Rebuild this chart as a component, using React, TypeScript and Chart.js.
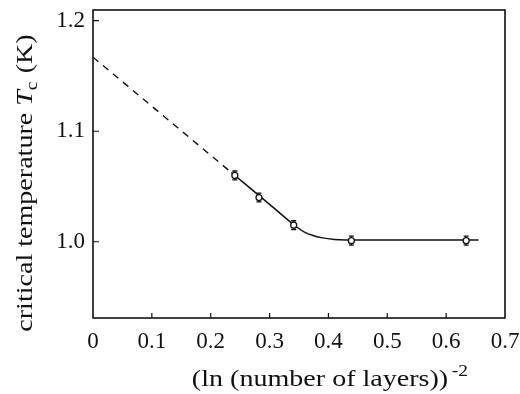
import React, { useEffect, useRef } from "react";
import { Chart, registerables } from "chart.js";

Chart.register(...registerables);

// measured points with error bars
const dataX = [0.241, 0.282, 0.341, 0.439, 0.634];
const dataY = [1.06, 1.04, 1.015, 1.001, 1.001];
const errY = [0.004, 0.004, 0.004, 0.004, 0.004];

// solid fit curve
const fitX = [0.235, 0.3, 0.345, 0.36, 0.375, 0.39, 0.41, 0.43, 0.46, 0.55, 0.655];
const fitY = [1.0627, 1.0338, 1.0138, 1.0085, 1.0055, 1.0035, 1.0021, 1.0016, 1.0015, 1.0015, 1.0015];

// dashed extrapolation
const extrapX = [0, 0.235];
const extrapY = [1.167, 1.0627];

const xTicks = [0, 0.1, 0.2, 0.3, 0.4, 0.5, 0.6, 0.7];
const yTicks = [1.0, 1.1, 1.2];

const xTitle = "(ln (number of layers))";
const xTitleSup = "-2";
const yTitleA = "critical temperature ";
const yTitleT = "T";
const yTitleSub = "c";
const yTitleB = " (K)";

const FONT = "'Liberation Serif', 'Times New Roman', serif";
const INK = "#111";
const TITLE_SIZE = 23;
const SUB_SIZE = 16;
const STRETCH = 1.22;

const decorPlugin = {
  id: "decor",
  beforeDatasetsDraw(chart: any) {
    const { ctx, scales } = chart;
    const x = scales.x;
    const y = scales.y;
    ctx.save();
    ctx.strokeStyle = INK;
    ctx.lineWidth = 1.3;
    for (let i = 0; i < dataX.length; i++) {
      const px = x.getPixelForValue(dataX[i]);
      const top = y.getPixelForValue(dataY[i] + errY[i]);
      const bot = y.getPixelForValue(dataY[i] - errY[i]);
      ctx.beginPath();
      ctx.moveTo(px, top);
      ctx.lineTo(px, bot);
      ctx.moveTo(px - 2.5, top);
      ctx.lineTo(px + 2.5, top);
      ctx.moveTo(px - 2.5, bot);
      ctx.lineTo(px + 2.5, bot);
      ctx.stroke();
    }
    ctx.restore();
  },
  afterDraw(chart: any) {
    const { ctx, chartArea, scales } = chart;
    const x = scales.x;
    const y = scales.y;
    ctx.save();
    ctx.strokeStyle = INK;
    ctx.lineWidth = 1.6;
    ctx.strokeRect(chartArea.left, chartArea.top, chartArea.right - chartArea.left, chartArea.bottom - chartArea.top);
    ctx.lineWidth = 1.2;
    ctx.beginPath();
    for (const v of xTicks) {
      if (v === 0 || v === 0.7) continue;
      const px = x.getPixelForValue(v);
      ctx.moveTo(px, chartArea.bottom);
      ctx.lineTo(px, chartArea.bottom - 5);
    }
    for (const v of yTicks) {
      const py = y.getPixelForValue(v);
      ctx.moveTo(chartArea.left, py);
      ctx.lineTo(chartArea.left + 6, py);
    }
    ctx.stroke();
    ctx.restore();

    // x title
    ctx.save();
    ctx.fillStyle = INK;
    ctx.textBaseline = "alphabetic";
    ctx.textAlign = "left";
    ctx.font = `${TITLE_SIZE}px ${FONT}`;
    const wMain = ctx.measureText(xTitle).width;
    ctx.font = `${SUB_SIZE}px ${FONT}`;
    const wSup = ctx.measureText(xTitleSup).width;
    const total = (wMain + wSup + 3) * STRETCH;
    const cx = 330;
    ctx.translate(cx - total / 2, 386);
    ctx.scale(STRETCH, 1);
    ctx.font = `${TITLE_SIZE}px ${FONT}`;
    ctx.fillText(xTitle, 0, 0);
    ctx.font = `${SUB_SIZE}px ${FONT}`;
    ctx.fillText(xTitleSup, wMain + 3, -10);
    ctx.restore();

    // y title (rotated)
    ctx.save();
    ctx.fillStyle = INK;
    ctx.textBaseline = "alphabetic";
    ctx.textAlign = "left";
    ctx.translate(32, 183);
    ctx.rotate(-Math.PI / 2);
    ctx.font = `${TITLE_SIZE}px ${FONT}`;
    const wA = ctx.measureText(yTitleA).width;
    const wB = ctx.measureText(yTitleB).width;
    ctx.font = `italic ${TITLE_SIZE}px ${FONT}`;
    const wT = ctx.measureText(yTitleT).width;
    ctx.font = `${SUB_SIZE}px ${FONT}`;
    const wS = ctx.measureText(yTitleSub).width;
    const tw = wA + wT + wS + 1 + wB;
    ctx.scale(STRETCH, 1);
    let tx = -tw / 2;
    ctx.font = `${TITLE_SIZE}px ${FONT}`;
    ctx.fillText(yTitleA, tx, 0);
    tx += wA;
    ctx.font = `italic ${TITLE_SIZE}px ${FONT}`;
    ctx.fillText(yTitleT, tx, 0);
    tx += wT;
    ctx.font = `${SUB_SIZE}px ${FONT}`;
    ctx.fillText(yTitleSub, tx, 5);
    tx += wS + 1;
    ctx.font = `${TITLE_SIZE}px ${FONT}`;
    ctx.fillText(yTitleB, tx, 0);
    ctx.restore();
  },
};

export default function App() {
  const ref = useRef<HTMLCanvasElement | null>(null);
  useEffect(() => {
    document.body.style.margin = "0";
    document.body.style.background = "#fff";
    const canvas = ref.current;
    if (!canvas) return;
    const chart = new Chart(canvas, {
      type: "scatter",
      data: {
        datasets: [
          {
            type: "line",
            data: extrapX.map((v, i) => ({ x: v, y: extrapY[i] })),
            borderColor: INK,
            borderWidth: 1.4,
            borderDash: [7, 6],
            pointRadius: 0,
            fill: false,
            order: 3,
          },
          {
            type: "line",
            data: fitX.map((v, i) => ({ x: v, y: fitY[i] })),
            borderColor: INK,
            borderWidth: 1.5,
            cubicInterpolationMode: "monotone",
            pointRadius: 0,
            fill: false,
            order: 2,
          },
          {
            type: "scatter",
            data: dataX.map((v, i) => ({ x: v, y: dataY[i] })),
            pointStyle: "circle",
            pointRadius: 3,
            backgroundColor: "#fff",
            borderColor: INK,
            borderWidth: 1.3,
            order: 1,
          },
        ],
      },
      options: {
        responsive: false,
        animation: false,
        layout: { padding: { top: 10, right: 15, left: 0, bottom: 0 } },
        plugins: { legend: { display: false }, tooltip: { enabled: false } },
        scales: {
          x: {
            type: "linear",
            min: 0,
            max: 0.7,
            afterBuildTicks: (s: any) => {
              s.ticks = xTicks.map((v) => ({ value: v }));
            },
            afterFit: (s: any) => {
              s.height = 76;
              s.paddingLeft = 0;
              s.paddingRight = 0;
            },
            grid: { display: false, drawTicks: false },
            border: { display: false },
            ticks: {
              color: INK,
              font: { family: FONT, size: 23 },
              padding: 10,
              maxRotation: 0,
              autoSkip: false,
              callback: (v: any) => (Number(v) === 0 ? "0" : Number(v).toFixed(1)),
            },
          },
          y: {
            type: "linear",
            min: 0.931,
            max: 1.2097,
            afterBuildTicks: (s: any) => {
              s.ticks = yTicks.map((v) => ({ value: v }));
            },
            afterFit: (s: any) => {
              s.width = 93;
              s.paddingTop = 0;
              s.paddingBottom = 0;
            },
            grid: { display: false, drawTicks: false },
            border: { display: false },
            ticks: {
              color: INK,
              font: { family: FONT, size: 23 },
              padding: 8,
              autoSkip: false,
              callback: (v: any) => Number(v).toFixed(1),
            },
          },
        },
      },
      plugins: [decorPlugin],
    } as any);
    return () => chart.destroy();
  }, []);
  return (
    <div style={{ width: 520, height: 394 }}>
      <canvas ref={ref} width={520} height={394} style={{ width: 520, height: 394, display: "block" }} />
    </div>
  );
}
